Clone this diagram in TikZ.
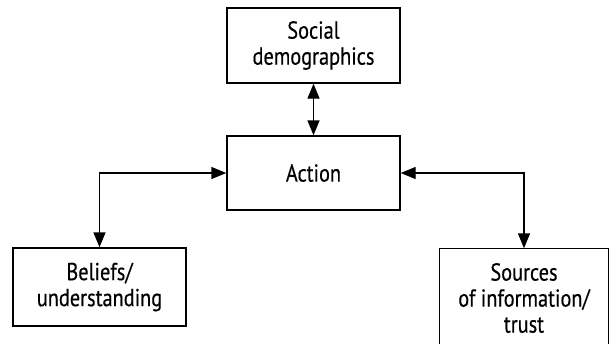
\documentclass[tikz,border=0pt]{standalone}
\usepackage{fontspec}
\setmainfont{PT Sans}[FakeStretch=0.83,FakeBold=0.4]
\usepackage{tikz}
\usetikzlibrary{arrows.meta,positioning}
\tikzset{
  box/.style={draw,line width=1.4pt,minimum width=173pt,align=center,font=\fontsize{24.5}{26}\selectfont},
  link/.style={line width=1.4pt,{Triangle[length=15pt,width=12pt]}-{Triangle[length=15pt,width=12pt]}}
}

\begin{document}
\begin{tikzpicture}[x=1pt,y=-1pt]
\useasboundingbox (0,0) rectangle (609,343);
\node[box,minimum height=75pt] (soc) at (313.5,45.5) {Social\\demographics};
\node[box,minimum height=74pt] (act) at (313.5,173) {Action};
\node[box,minimum height=78pt] (bel) at (99.5,287) {Beliefs/\\understanding};
\node[box,draw=none,minimum width=168pt,minimum height=98pt] (src) at (524,298) {Sources\\of information/\\trust};
\draw[line width=1.4pt] (src.south west) -- (src.north west) -- (src.north east) -- (src.south east);
\draw[link] (soc) -- (act);
\draw[link] (act.west) -| (bel.north);
\draw[link] (act.east) -| (src.north);
\end{tikzpicture}
\end{document}
